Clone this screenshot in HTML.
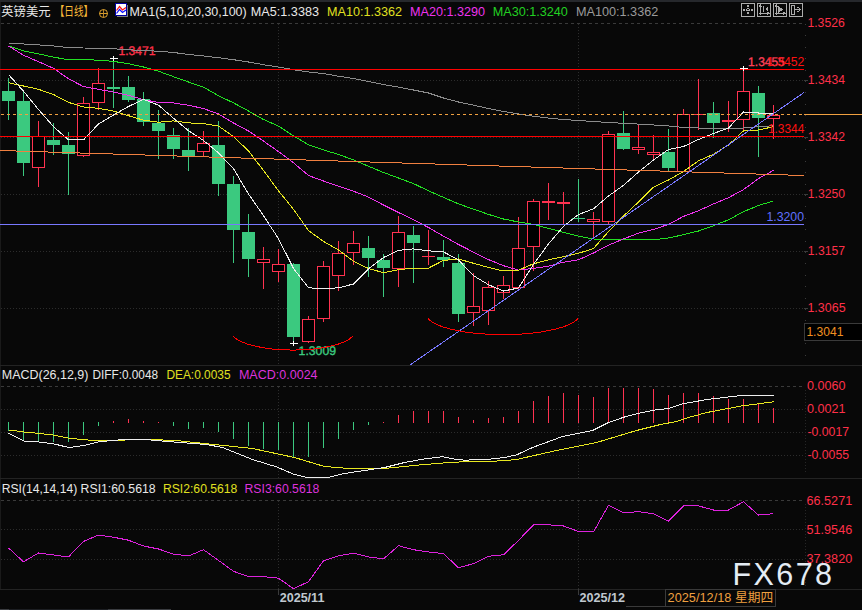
<!DOCTYPE html><html><head><meta charset="utf-8"><title>英镑美元 日线</title><style>
html,body{margin:0;padding:0;background:#080808;width:862px;height:610px;overflow:hidden}
svg{display:block}
text{font-family:"Liberation Sans","Noto Sans CJK SC",sans-serif;font-size:13px}
.ax{fill:#ff3048;font-size:12.5px}
</style></head><body>
<svg width="862" height="610" viewBox="0 0 862 610">
<rect x="0" y="0" width="862" height="610" fill="#080808"/>
<rect x="0" y="0" width="862" height="2" fill="#26282c"/>
<rect x="0" y="2" width="1" height="587" fill="#1a1a1a"/>
<rect x="0" y="365" width="862" height="1" fill="#232323"/>
<rect x="0" y="478" width="862" height="1" fill="#232323"/>
<rect x="0" y="589" width="862" height="1" fill="#232323"/>
<g shape-rendering="crispEdges"><line x1="1" y1="23.5" x2="802" y2="23.5" stroke="#3a3a3a" stroke-dasharray="3 3"/><line x1="1" y1="386.5" x2="802" y2="386.5" stroke="#3a3a3a" stroke-dasharray="3 3"/><line x1="1" y1="500.5" x2="802" y2="500.5" stroke="#3a3a3a" stroke-dasharray="3 3"/><line x1="1" y1="80.5" x2="804" y2="80.5" stroke="#2c2c2c" stroke-dasharray="1 2"/><line x1="1" y1="137.5" x2="804" y2="137.5" stroke="#2c2c2c" stroke-dasharray="1 2"/><line x1="1" y1="194.5" x2="804" y2="194.5" stroke="#2c2c2c" stroke-dasharray="1 2"/><line x1="1" y1="251.5" x2="804" y2="251.5" stroke="#2c2c2c" stroke-dasharray="1 2"/><line x1="1" y1="308.5" x2="804" y2="308.5" stroke="#2c2c2c" stroke-dasharray="1 2"/><line x1="1" y1="409.5" x2="804" y2="409.5" stroke="#2c2c2c" stroke-dasharray="1 2"/><line x1="1" y1="432.5" x2="804" y2="432.5" stroke="#2c2c2c" stroke-dasharray="1 2"/><line x1="1" y1="455.5" x2="804" y2="455.5" stroke="#2c2c2c" stroke-dasharray="1 2"/><line x1="1" y1="529.5" x2="804" y2="529.5" stroke="#2c2c2c" stroke-dasharray="1 2"/><line x1="1" y1="559.5" x2="804" y2="559.5" stroke="#2c2c2c" stroke-dasharray="1 2"/><line x1="278.5" y1="24" x2="278.5" y2="365" stroke="#2c2c2c" stroke-dasharray="1 2"/><line x1="278.5" y1="387" x2="278.5" y2="478" stroke="#2c2c2c" stroke-dasharray="1 2"/><line x1="278.5" y1="501" x2="278.5" y2="589" stroke="#2c2c2c" stroke-dasharray="1 2"/><line x1="278.5" y1="589" x2="278.5" y2="595" stroke="#3a3a3a"/><line x1="578.5" y1="24" x2="578.5" y2="365" stroke="#2c2c2c" stroke-dasharray="1 2"/><line x1="578.5" y1="387" x2="578.5" y2="478" stroke="#2c2c2c" stroke-dasharray="1 2"/><line x1="578.5" y1="501" x2="578.5" y2="589" stroke="#2c2c2c" stroke-dasharray="1 2"/><line x1="578.5" y1="589" x2="578.5" y2="595" stroke="#3a3a3a"/><line x1="805.5" y1="24" x2="805.5" y2="365" stroke="#3a3a3a" stroke-dasharray="1 10.4"/><line x1="804" y1="80.5" x2="808" y2="80.5" stroke="#3a3a3a"/><line x1="804" y1="137.5" x2="808" y2="137.5" stroke="#3a3a3a"/><line x1="804" y1="194.5" x2="808" y2="194.5" stroke="#3a3a3a"/><line x1="804" y1="251.5" x2="808" y2="251.5" stroke="#3a3a3a"/><line x1="804" y1="308.5" x2="808" y2="308.5" stroke="#3a3a3a"/><line x1="805.5" y1="390" x2="805.5" y2="474" stroke="#262626" stroke-dasharray="1 2"/><line x1="805.5" y1="504" x2="805.5" y2="586" stroke="#262626" stroke-dasharray="1 2"/><line x1="8.5" y1="78" x2="8.5" y2="120" stroke="#3bc97f"/><rect x="2" y="91" width="13" height="10" fill="#3bc97f"/><line x1="23.5" y1="91" x2="23.5" y2="176" stroke="#3bc97f"/><rect x="17" y="101" width="13" height="62" fill="#3bc97f"/><line x1="38.5" y1="121" x2="38.5" y2="136" stroke="#ff3250"/><line x1="38.5" y1="168" x2="38.5" y2="187" stroke="#ff3250"/><rect x="32.5" y="136.5" width="12" height="31" fill="#000" stroke="#ff3250"/><line x1="53.5" y1="123" x2="53.5" y2="155" stroke="#3bc97f"/><rect x="47" y="140" width="13" height="5" fill="#3bc97f"/><line x1="68.5" y1="132" x2="68.5" y2="195" stroke="#3bc97f"/><rect x="62" y="145" width="13" height="9" fill="#3bc97f"/><line x1="83.5" y1="97" x2="83.5" y2="103" stroke="#ff3250"/><line x1="83.5" y1="156" x2="83.5" y2="157" stroke="#ff3250"/><rect x="77.5" y="103.5" width="12" height="52" fill="#000" stroke="#ff3250"/><line x1="98.5" y1="68" x2="98.5" y2="83" stroke="#ff3250"/><line x1="98.5" y1="103" x2="98.5" y2="110" stroke="#ff3250"/><rect x="92.5" y="83.5" width="12" height="19" fill="#000" stroke="#ff3250"/><line x1="113.5" y1="57" x2="113.5" y2="108" stroke="#3bc97f"/><rect x="107" y="87" width="13" height="2" fill="#3bc97f"/><line x1="128.5" y1="76" x2="128.5" y2="102" stroke="#3bc97f"/><rect x="122" y="87" width="13" height="13" fill="#3bc97f"/><line x1="143.5" y1="92" x2="143.5" y2="126" stroke="#3bc97f"/><rect x="137" y="99" width="13" height="23" fill="#3bc97f"/><line x1="158.5" y1="110" x2="158.5" y2="159" stroke="#3bc97f"/><rect x="152" y="123" width="13" height="8" fill="#3bc97f"/><line x1="173.5" y1="128" x2="173.5" y2="159" stroke="#3bc97f"/><rect x="167" y="135" width="13" height="14" fill="#3bc97f"/><line x1="188.5" y1="128" x2="188.5" y2="171" stroke="#3bc97f"/><rect x="182" y="150" width="13" height="6" fill="#3bc97f"/><line x1="203.5" y1="131" x2="203.5" y2="143" stroke="#ff3250"/><line x1="203.5" y1="152" x2="203.5" y2="156" stroke="#ff3250"/><rect x="197.5" y="143.5" width="12" height="8" fill="#000" stroke="#ff3250"/><line x1="218.5" y1="121" x2="218.5" y2="196" stroke="#3bc97f"/><rect x="212" y="145" width="13" height="39" fill="#3bc97f"/><line x1="233.5" y1="176" x2="233.5" y2="263" stroke="#3bc97f"/><rect x="227" y="184" width="13" height="46" fill="#3bc97f"/><line x1="248.5" y1="214" x2="248.5" y2="277" stroke="#3bc97f"/><rect x="242" y="232" width="13" height="27" fill="#3bc97f"/><line x1="263.5" y1="247" x2="263.5" y2="259" stroke="#ff3250"/><line x1="263.5" y1="263" x2="263.5" y2="289" stroke="#ff3250"/><rect x="257.5" y="259.5" width="12" height="3" fill="#000" stroke="#ff3250"/><line x1="278.5" y1="249" x2="278.5" y2="264" stroke="#ff3250"/><line x1="278.5" y1="272" x2="278.5" y2="282" stroke="#ff3250"/><rect x="272.5" y="264.5" width="12" height="7" fill="#000" stroke="#ff3250"/><line x1="293.5" y1="263" x2="293.5" y2="343" stroke="#3bc97f"/><rect x="287" y="264" width="13" height="73" fill="#3bc97f"/><line x1="308.5" y1="316" x2="308.5" y2="319" stroke="#ff3250"/><line x1="308.5" y1="342" x2="308.5" y2="343" stroke="#ff3250"/><rect x="302.5" y="319.5" width="12" height="22" fill="#000" stroke="#ff3250"/><line x1="323.5" y1="261" x2="323.5" y2="266" stroke="#ff3250"/><line x1="323.5" y1="319" x2="323.5" y2="322" stroke="#ff3250"/><rect x="317.5" y="266.5" width="12" height="52" fill="#000" stroke="#ff3250"/><line x1="338.5" y1="241" x2="338.5" y2="253" stroke="#ff3250"/><line x1="338.5" y1="276" x2="338.5" y2="291" stroke="#ff3250"/><rect x="332.5" y="253.5" width="12" height="22" fill="#000" stroke="#ff3250"/><line x1="353.5" y1="231" x2="353.5" y2="243" stroke="#ff3250"/><line x1="353.5" y1="253" x2="353.5" y2="265" stroke="#ff3250"/><rect x="347.5" y="243.5" width="12" height="9" fill="#000" stroke="#ff3250"/><line x1="368.5" y1="236" x2="368.5" y2="277" stroke="#3bc97f"/><rect x="362" y="248" width="13" height="10" fill="#3bc97f"/><line x1="383.5" y1="254" x2="383.5" y2="297" stroke="#3bc97f"/><rect x="377" y="260" width="13" height="8" fill="#3bc97f"/><line x1="398.5" y1="216" x2="398.5" y2="232" stroke="#ff3250"/><line x1="398.5" y1="269" x2="398.5" y2="287" stroke="#ff3250"/><rect x="392.5" y="232.5" width="12" height="36" fill="#000" stroke="#ff3250"/><line x1="413.5" y1="226" x2="413.5" y2="283" stroke="#3bc97f"/><rect x="407" y="235" width="13" height="8" fill="#3bc97f"/><line x1="428.5" y1="230" x2="428.5" y2="256" stroke="#ff3250"/><line x1="428.5" y1="257" x2="428.5" y2="265" stroke="#ff3250"/><line x1="422" y1="256.5" x2="435" y2="256.5" stroke="#ff3250"/><line x1="443.5" y1="240" x2="443.5" y2="267" stroke="#3bc97f"/><rect x="437" y="257" width="13" height="3" fill="#3bc97f"/><line x1="458.5" y1="254" x2="458.5" y2="322" stroke="#3bc97f"/><rect x="452" y="263" width="13" height="51" fill="#3bc97f"/><line x1="473.5" y1="273" x2="473.5" y2="306" stroke="#ff3250"/><line x1="473.5" y1="313" x2="473.5" y2="326" stroke="#ff3250"/><rect x="467.5" y="306.5" width="12" height="6" fill="#000" stroke="#ff3250"/><line x1="488.5" y1="281" x2="488.5" y2="287" stroke="#ff3250"/><line x1="488.5" y1="311" x2="488.5" y2="325" stroke="#ff3250"/><rect x="482.5" y="287.5" width="12" height="23" fill="#000" stroke="#ff3250"/><line x1="503.5" y1="276" x2="503.5" y2="285" stroke="#ff3250"/><line x1="503.5" y1="293" x2="503.5" y2="299" stroke="#ff3250"/><rect x="497.5" y="285.5" width="12" height="7" fill="#000" stroke="#ff3250"/><line x1="518.5" y1="217" x2="518.5" y2="248" stroke="#ff3250"/><line x1="518.5" y1="288" x2="518.5" y2="290" stroke="#ff3250"/><rect x="512.5" y="248.5" width="12" height="39" fill="#000" stroke="#ff3250"/><line x1="533.5" y1="199" x2="533.5" y2="201" stroke="#ff3250"/><line x1="533.5" y1="247" x2="533.5" y2="271" stroke="#ff3250"/><rect x="527.5" y="201.5" width="12" height="45" fill="#000" stroke="#ff3250"/><line x1="548.5" y1="183" x2="548.5" y2="201" stroke="#ff3250"/><line x1="548.5" y1="203" x2="548.5" y2="220" stroke="#ff3250"/><rect x="542.5" y="201.5" width="12" height="1" fill="#000" stroke="#ff3250"/><line x1="563.5" y1="192" x2="563.5" y2="202" stroke="#ff3250"/><line x1="563.5" y1="204" x2="563.5" y2="224" stroke="#ff3250"/><rect x="557.5" y="202.5" width="12" height="1" fill="#000" stroke="#ff3250"/><line x1="578.5" y1="179" x2="578.5" y2="222" stroke="#3bc97f"/><rect x="572" y="218" width="13" height="1" fill="#3bc97f"/><line x1="593.5" y1="212" x2="593.5" y2="219" stroke="#ff3250"/><line x1="593.5" y1="222" x2="593.5" y2="239" stroke="#ff3250"/><rect x="587.5" y="219.5" width="12" height="2" fill="#000" stroke="#ff3250"/><line x1="608.5" y1="131" x2="608.5" y2="134" stroke="#ff3250"/><line x1="608.5" y1="222" x2="608.5" y2="225" stroke="#ff3250"/><rect x="602.5" y="134.5" width="12" height="87" fill="#000" stroke="#ff3250"/><line x1="623.5" y1="111" x2="623.5" y2="150" stroke="#3bc97f"/><rect x="617" y="133" width="13" height="16" fill="#3bc97f"/><line x1="638.5" y1="125" x2="638.5" y2="147" stroke="#ff3250"/><line x1="638.5" y1="150" x2="638.5" y2="154" stroke="#ff3250"/><rect x="632.5" y="147.5" width="12" height="2" fill="#000" stroke="#ff3250"/><line x1="653.5" y1="135" x2="653.5" y2="152" stroke="#ff3250"/><line x1="653.5" y1="155" x2="653.5" y2="159" stroke="#ff3250"/><rect x="647.5" y="152.5" width="12" height="2" fill="#000" stroke="#ff3250"/><line x1="668.5" y1="129" x2="668.5" y2="171" stroke="#3bc97f"/><rect x="662" y="152" width="13" height="16" fill="#3bc97f"/><line x1="683.5" y1="109" x2="683.5" y2="114" stroke="#ff3250"/><line x1="683.5" y1="172" x2="683.5" y2="172" stroke="#ff3250"/><rect x="677.5" y="114.5" width="12" height="57" fill="#000" stroke="#ff3250"/><line x1="698.5" y1="79" x2="698.5" y2="114" stroke="#ff3250"/><line x1="698.5" y1="115" x2="698.5" y2="130" stroke="#ff3250"/><line x1="692" y1="114.5" x2="705" y2="114.5" stroke="#ff3250"/><line x1="713.5" y1="102" x2="713.5" y2="138" stroke="#3bc97f"/><rect x="707" y="113" width="13" height="10" fill="#3bc97f"/><line x1="728.5" y1="101" x2="728.5" y2="120" stroke="#ff3250"/><line x1="728.5" y1="122" x2="728.5" y2="132" stroke="#ff3250"/><rect x="722.5" y="120.5" width="12" height="1" fill="#000" stroke="#ff3250"/><line x1="743.5" y1="67" x2="743.5" y2="91" stroke="#ff3250"/><line x1="743.5" y1="120" x2="743.5" y2="130" stroke="#ff3250"/><rect x="737.5" y="91.5" width="12" height="28" fill="#000" stroke="#ff3250"/><line x1="758.5" y1="86" x2="758.5" y2="157" stroke="#3bc97f"/><rect x="752" y="93" width="13" height="25" fill="#3bc97f"/><line x1="773.5" y1="105" x2="773.5" y2="115" stroke="#ff3250"/><line x1="773.5" y1="119" x2="773.5" y2="139" stroke="#ff3250"/><rect x="767.5" y="115.5" width="12" height="3" fill="#000" stroke="#ff3250"/><g shape-rendering="auto" text-rendering="geometricPrecision"><text x="118.5" y="55" fill="#ff3048" textLength="37.1" lengthAdjust="spacingAndGlyphs" style="font-size:12.5px;stroke:#ff3048;stroke-width:0.35px">1.3471</text><text x="298.6" y="354.6" fill="#3bc97f" textLength="37.4" lengthAdjust="spacingAndGlyphs" style="font-size:12.5px;stroke:#3bc97f;stroke-width:0.35px">1.3009</text><text x="748.1" y="65.7" fill="#ff4058" textLength="36.8" lengthAdjust="spacingAndGlyphs" style="font-size:12.5px;stroke:#ff4058;stroke-width:0.35px">1.3455</text></g><polyline points="8.5,43.0 23.5,44.0 38.5,44.9 53.5,46.0 68.5,47.6 83.5,48.0 98.5,48.2 113.5,48.8 128.5,49.8 143.5,50.5 158.5,51.2 173.5,52.5 188.5,54.4 203.5,56.0 218.5,57.7 233.5,59.7 248.5,62.0 263.5,64.7 278.5,67.1 293.5,69.7 308.5,72.0 323.5,73.6 338.5,76.2 353.5,78.5 368.5,81.5 383.5,84.5 398.5,87.1 413.5,90.0 428.5,93.0 443.5,98.0 458.5,102.0 473.5,105.2 488.5,108.5 503.5,111.5 518.5,114.0 533.5,116.2 548.5,118.1 563.5,119.5 578.5,120.5 593.5,121.5 608.5,122.5 623.5,123.3 638.5,124.1 653.5,125.0 668.5,126.0 683.5,127.4 698.5,128.0 713.5,128.7 728.5,128.7 743.5,128.0 758.5,126.7 773.5,125.7" fill="none" stroke="#8c8c8c"/><polyline points="8.5,45.7 23.5,51.0 38.5,53.9 53.5,57.1 68.5,59.8 83.5,59.8 98.5,60.1 113.5,61.4 128.5,63.7 143.5,67.0 158.5,71.2 173.5,76.7 188.5,82.0 203.5,87.2 218.5,95.7 233.5,102.9 248.5,111.0 263.5,119.5 278.5,126.1 293.5,135.9 308.5,144.7 323.5,149.9 338.5,154.5 353.5,159.8 368.5,166.3 383.5,172.5 398.5,178.0 413.5,183.6 428.5,190.8 443.5,197.4 458.5,203.9 473.5,209.2 488.5,214.4 503.5,219.0 518.5,222.0 533.5,224.4 548.5,228.4 563.5,232.3 578.5,236.2 593.5,239.0 608.5,239.7 623.5,239.7 638.5,239.7 653.5,239.7 668.5,238.0 683.5,234.7 698.5,231.0 713.5,225.7 728.5,219.8 743.5,211.7 758.5,205.5 773.5,200.9" fill="none" stroke="#22e022"/><polyline points="8.5,46.0 23.5,55.2 38.5,61.7 53.5,68.3 68.5,78.8 83.5,86.6 98.5,89.3 113.5,92.1 128.5,95.3 143.5,99.7 158.5,102.5 173.5,103.0 188.5,105.3 203.5,108.5 218.5,114.0 233.5,123.0 248.5,131.0 263.5,141.1 278.5,151.6 293.5,162.8 308.5,175.5 323.5,181.0 338.5,186.3 353.5,191.2 368.5,197.1 383.5,205.0 398.5,212.5 413.5,219.7 428.5,227.5 443.5,236.1 458.5,244.5 473.5,252.1 488.5,259.6 503.5,265.7 518.5,270.1 533.5,268.4 548.5,266.1 563.5,262.2 578.5,259.8 593.5,253.0 608.5,245.2 623.5,238.9 638.5,233.2 653.5,229.5 668.5,224.3 683.5,216.4 698.5,210.8 713.5,203.9 728.5,197.7 743.5,189.6 758.5,178.5 773.5,170.4" fill="none" stroke="#ee33ee"/><polyline points="8.5,82.7 23.5,86.0 38.5,89.3 53.5,94.5 68.5,102.4 83.5,107.0 98.5,108.3 113.5,111.1 128.5,115.7 143.5,120.2 158.5,122.2 173.5,120.9 188.5,122.9 203.5,123.5 218.5,126.1 233.5,136.5 248.5,151.0 263.5,170.5 278.5,190.8 293.5,209.3 308.5,230.5 323.5,241.5 338.5,250.0 353.5,261.3 368.5,268.5 383.5,272.7 398.5,269.8 413.5,268.1 428.5,268.1 443.5,260.4 458.5,259.0 473.5,263.3 488.5,267.5 503.5,271.0 518.5,270.1 533.5,263.8 548.5,259.8 563.5,256.6 578.5,253.3 593.5,248.5 608.5,231.5 623.5,216.0 638.5,202.0 653.5,187.1 668.5,180.0 683.5,171.5 698.5,160.8 713.5,154.3 728.5,145.0 743.5,130.9 758.5,130.0 773.5,126.7" fill="none" stroke="#e8e820"/><polyline points="8.5,74.6 23.5,91.2 38.5,109.5 53.5,126.7 68.5,139.9 83.5,139.9 98.5,124.0 113.5,115.0 128.5,106.5 143.5,99.3 158.5,105.2 173.5,118.3 188.5,130.7 203.5,140.5 218.5,152.9 233.5,168.7 248.5,194.0 263.5,215.7 278.5,238.7 293.5,268.5 308.5,287.8 323.5,288.6 338.5,287.8 353.5,284.0 368.5,268.9 383.5,257.5 398.5,250.4 413.5,248.9 428.5,250.8 443.5,251.9 458.5,260.0 473.5,275.7 488.5,284.7 503.5,291.0 518.5,288.0 533.5,264.4 548.5,243.8 563.5,226.4 578.5,214.5 593.5,208.8 608.5,196.0 623.5,185.3 638.5,172.0 653.5,160.0 668.5,149.5 683.5,146.5 698.5,139.5 713.5,133.5 728.5,128.0 743.5,112.0 758.5,113.0 773.5,113.0" fill="none" stroke="#eeeeee"/><line x1="0" y1="69.5" x2="804" y2="69.5" stroke="#ff0000"/><line x1="0" y1="136.5" x2="804" y2="136.5" stroke="#ff0000"/><line x1="0" y1="224.5" x2="804" y2="224.5" stroke="#7878ff"/><line x1="1" y1="114.5" x2="804" y2="114.5" stroke="#f0a040" stroke-dasharray="3 3"/><line x1="804" y1="114.5" x2="862" y2="114.5" stroke="#f0a040"/><line x1="0" y1="150.5" x2="804" y2="175.5" stroke="#f08040"/><line x1="410" y1="365" x2="804" y2="92.5" stroke="#7878ff"/><path d="M233,336 A62,18.8 0 0 0 353,336" fill="none" stroke="#ff0000"/><path d="M428,318.5 A77,20.9 0 0 0 578,318.5" fill="none" stroke="#ff0000"/><line x1="110" y1="58.5" x2="118" y2="58.5" stroke="#ffffff"/><line x1="113.5" y1="56" x2="113.5" y2="61" stroke="#ffffff"/><line x1="290" y1="343.5" x2="298" y2="343.5" stroke="#ffffff"/><line x1="293.5" y1="341" x2="293.5" y2="346" stroke="#ffffff"/><line x1="740" y1="68.5" x2="748" y2="68.5" stroke="#ffffff"/><line x1="743.5" y1="66" x2="743.5" y2="71" stroke="#ffffff"/><line x1="8.5" y1="422" x2="8.5" y2="431" stroke="#3bc97f"/><line x1="23.5" y1="422" x2="23.5" y2="441" stroke="#3bc97f"/><line x1="38.5" y1="422" x2="38.5" y2="441" stroke="#3bc97f"/><line x1="53.5" y1="422" x2="53.5" y2="442" stroke="#3bc97f"/><line x1="68.5" y1="422" x2="68.5" y2="442" stroke="#3bc97f"/><line x1="83.5" y1="422" x2="83.5" y2="435" stroke="#3bc97f"/><line x1="98.5" y1="422" x2="98.5" y2="426" stroke="#3bc97f"/><line x1="113.5" y1="421" x2="113.5" y2="423" stroke="#ff3250"/><line x1="128.5" y1="419" x2="128.5" y2="423" stroke="#ff3250"/><line x1="143.5" y1="421" x2="143.5" y2="423" stroke="#ff3250"/><line x1="158.5" y1="422" x2="158.5" y2="423" stroke="#ff3250"/><line x1="173.5" y1="422" x2="173.5" y2="426" stroke="#3bc97f"/><line x1="188.5" y1="422" x2="188.5" y2="429" stroke="#3bc97f"/><line x1="203.5" y1="422" x2="203.5" y2="428" stroke="#3bc97f"/><line x1="218.5" y1="422" x2="218.5" y2="432" stroke="#3bc97f"/><line x1="233.5" y1="422" x2="233.5" y2="439" stroke="#3bc97f"/><line x1="248.5" y1="422" x2="248.5" y2="446" stroke="#3bc97f"/><line x1="263.5" y1="422" x2="263.5" y2="449" stroke="#3bc97f"/><line x1="278.5" y1="422" x2="278.5" y2="450" stroke="#3bc97f"/><line x1="293.5" y1="422" x2="293.5" y2="457" stroke="#3bc97f"/><line x1="308.5" y1="422" x2="308.5" y2="457" stroke="#3bc97f"/><line x1="323.5" y1="422" x2="323.5" y2="448" stroke="#3bc97f"/><line x1="338.5" y1="422" x2="338.5" y2="439" stroke="#3bc97f"/><line x1="353.5" y1="422" x2="353.5" y2="430" stroke="#3bc97f"/><line x1="368.5" y1="422" x2="368.5" y2="425" stroke="#3bc97f"/><line x1="383.5" y1="422" x2="383.5" y2="423" stroke="#ff3250"/><line x1="398.5" y1="415" x2="398.5" y2="423" stroke="#ff3250"/><line x1="413.5" y1="411" x2="413.5" y2="423" stroke="#ff3250"/><line x1="428.5" y1="411" x2="428.5" y2="423" stroke="#ff3250"/><line x1="443.5" y1="411" x2="443.5" y2="423" stroke="#ff3250"/><line x1="458.5" y1="417" x2="458.5" y2="423" stroke="#ff3250"/><line x1="473.5" y1="420" x2="473.5" y2="423" stroke="#ff3250"/><line x1="488.5" y1="418" x2="488.5" y2="423" stroke="#ff3250"/><line x1="503.5" y1="417" x2="503.5" y2="423" stroke="#ff3250"/><line x1="518.5" y1="411" x2="518.5" y2="423" stroke="#ff3250"/><line x1="533.5" y1="401" x2="533.5" y2="423" stroke="#ff3250"/><line x1="548.5" y1="396" x2="548.5" y2="423" stroke="#ff3250"/><line x1="563.5" y1="393" x2="563.5" y2="423" stroke="#ff3250"/><line x1="578.5" y1="395" x2="578.5" y2="423" stroke="#ff3250"/><line x1="593.5" y1="397" x2="593.5" y2="423" stroke="#ff3250"/><line x1="608.5" y1="388" x2="608.5" y2="423" stroke="#ff3250"/><line x1="623.5" y1="388" x2="623.5" y2="423" stroke="#ff3250"/><line x1="638.5" y1="388" x2="638.5" y2="423" stroke="#ff3250"/><line x1="653.5" y1="389" x2="653.5" y2="423" stroke="#ff3250"/><line x1="668.5" y1="395" x2="668.5" y2="423" stroke="#ff3250"/><line x1="683.5" y1="393" x2="683.5" y2="423" stroke="#ff3250"/><line x1="698.5" y1="393" x2="698.5" y2="423" stroke="#ff3250"/><line x1="713.5" y1="396" x2="713.5" y2="423" stroke="#ff3250"/><line x1="728.5" y1="399" x2="728.5" y2="423" stroke="#ff3250"/><line x1="743.5" y1="399" x2="743.5" y2="423" stroke="#ff3250"/><line x1="758.5" y1="404" x2="758.5" y2="423" stroke="#ff3250"/><line x1="773.5" y1="408" x2="773.5" y2="423" stroke="#ff3250"/><polyline points="8.5,429.9 24.0,432.0 39.0,433.4 54.0,435.1 69.0,438.2 84.0,439.7 99.0,440.8 114.0,440.8 129.0,439.7 144.0,439.7 159.0,439.9 174.0,440.3 252.5,448.5 294.5,457.5 324.5,466.5 344.5,468.1 364.5,468.9 384.5,468.5 404.5,466.5 424.5,464.5 444.5,462.9 464.5,461.7 484.5,461.5 504.5,460.7 516.5,459.5 556.5,450.5 596.5,442.5 636.5,430.5 660.5,424.5 676.5,421.5 688.5,417.5 707.4,412.4 742.5,405.8 774.0,401.8" fill="none" stroke="#e8e820"/><polyline points="8.5,433.4 24.0,441.0 39.0,442.0 54.0,443.9 69.0,447.6 84.0,445.5 99.0,441.8 114.0,440.3 129.0,439.3 144.0,439.3 159.0,440.8 174.0,442.0 206.5,444.5 222.5,447.5 252.5,459.5 276.5,466.9 294.5,474.5 308.5,477.9 326.5,477.9 344.5,473.5 364.5,470.5 384.5,467.5 404.5,462.5 424.5,458.9 442.5,456.7 456.5,459.5 464.5,460.1 484.5,459.7 504.5,457.5 516.5,454.9 532.5,447.5 562.5,436.5 592.5,430.5 608.5,422.5 624.5,417.0 640.5,412.8 656.5,409.8 668.5,408.5 683.9,403.5 707.4,399.5 742.5,395.3 774.0,395.3" fill="none" stroke="#eeeeee"/><polyline points="8.5,547.9 23.5,561.8 38.5,553.0 53.5,555.0 68.5,556.9 83.5,541.4 98.5,535.1 113.5,537.2 128.5,540.2 143.5,546.0 158.5,549.0 173.5,554.1 188.5,556.0 203.5,549.7 218.5,560.4 233.5,571.3 248.5,576.6 263.5,576.6 278.5,578.2 293.5,588.7 308.5,581.7 323.5,560.8 338.5,555.7 353.5,553.2 368.5,556.9 383.5,558.9 398.5,545.7 413.5,549.7 428.5,552.0 443.5,553.6 458.5,567.8 473.5,563.6 488.5,556.2 503.5,554.8 518.5,540.4 533.5,524.8 548.5,524.8 563.5,526.0 578.5,531.5 593.5,532.0 608.5,505.2 623.5,512.7 638.5,511.7 653.5,513.7 668.5,521.2 683.5,505.9 698.5,505.9 713.5,510.0 728.5,510.0 743.5,501.8 758.5,515.1 773.5,513.7" fill="none" stroke="#dd22dd"/></g>
<rect x="804.5" y="323.5" width="60" height="17" fill="#000" stroke="#3a3a3a"/>
<rect x="665.5" y="589.5" width="110" height="17" fill="#080808" stroke="#3a3a3a"/>
<rect x="626" y="606" width="40" height="1" fill="#3a3a3a"/>
<rect x="0" y="609" width="9" height="1" fill="#3a3c40"/><rect x="9" y="609" width="99" height="1" fill="#1c1e22"/><rect x="108" y="609" width="63" height="1" fill="#3a3c40"/>
<text x="1.3" y="16" fill="#e8e8e8" textLength="49.2" lengthAdjust="spacingAndGlyphs" style="font-size:12.5px;">英镑美元</text><text x="54.7" y="16" fill="#f8b838" textLength="38.5" lengthAdjust="spacingAndGlyphs" style="font-size:12.5px;">【日线】</text><text x="129.6" y="16" fill="#e8e8e8" textLength="117.1" lengthAdjust="spacingAndGlyphs" style="font-size:13px;">MA1(5,10,20,30,100)</text><text x="250.8" y="16" fill="#e8e8e8" textLength="68.2" lengthAdjust="spacingAndGlyphs" style="font-size:13px;">MA5:1.3383</text><text x="327.1" y="16" fill="#e0e020" textLength="75.0" lengthAdjust="spacingAndGlyphs" style="font-size:13px;">MA10:1.3362</text><text x="410.0" y="16" fill="#ee33ee" textLength="75.0" lengthAdjust="spacingAndGlyphs" style="font-size:13px;">MA20:1.3290</text><text x="492.7" y="16" fill="#22d022" textLength="75.2" lengthAdjust="spacingAndGlyphs" style="font-size:13px;">MA30:1.3240</text><text x="575.9" y="16" fill="#9a9a9a" textLength="82.4" lengthAdjust="spacingAndGlyphs" style="font-size:13px;">MA100:1.3362</text><text x="807.4" y="27" fill="#ff3048" textLength="37.4" lengthAdjust="spacingAndGlyphs" style="font-size:12.5px;">1.3526</text><text x="807.8" y="84" fill="#ff3048" textLength="37.1" lengthAdjust="spacingAndGlyphs" style="font-size:12.5px;">1.3434</text><text x="807.8" y="140.5" fill="#ff3048" textLength="37.1" lengthAdjust="spacingAndGlyphs" style="font-size:12.5px;">1.3342</text><text x="807.8" y="198" fill="#ff3048" textLength="37.2" lengthAdjust="spacingAndGlyphs" style="font-size:12.5px;">1.3250</text><text x="807.8" y="255" fill="#ff3048" textLength="37.2" lengthAdjust="spacingAndGlyphs" style="font-size:12.5px;">1.3157</text><text x="807.4" y="312.2" fill="#ff3048" textLength="38.2" lengthAdjust="spacingAndGlyphs" style="font-size:12.5px;">1.3065</text><text x="806.4" y="336.2" fill="#f09020" textLength="37.0" lengthAdjust="spacingAndGlyphs" style="font-size:12.5px;">1.3041</text><text x="766.9" y="65.7" fill="#ff1010" textLength="37.5" lengthAdjust="spacingAndGlyphs" style="font-size:12.5px;">1.3452</text><text x="767.9" y="133" fill="#ff1010" textLength="36.5" lengthAdjust="spacingAndGlyphs" style="font-size:12.5px;">1.3344</text><text x="766.4" y="221" fill="#6070ff" textLength="37.6" lengthAdjust="spacingAndGlyphs" style="font-size:12.5px;">1.3200</text><text x="1.8" y="379" fill="#e8e8e8" textLength="86.6" lengthAdjust="spacingAndGlyphs" style="font-size:12.5px;">MACD(26,12,9)</text><text x="92.4" y="379" fill="#e8e8e8" textLength="65.7" lengthAdjust="spacingAndGlyphs" style="font-size:12.5px;">DIFF:0.0048</text><text x="166.4" y="379" fill="#e0e020" textLength="64.2" lengthAdjust="spacingAndGlyphs" style="font-size:12.5px;">DEA:0.0035</text><text x="238.9" y="379" fill="#dd33dd" textLength="78.7" lengthAdjust="spacingAndGlyphs" style="font-size:12.5px;">MACD:0.0024</text><text x="806.9" y="389.6" fill="#ff3048" textLength="38.5" lengthAdjust="spacingAndGlyphs" style="font-size:12.5px;">0.0060</text><text x="806.9" y="413" fill="#ff3048" textLength="38.5" lengthAdjust="spacingAndGlyphs" style="font-size:12.5px;">0.0021</text><text x="807.4" y="435.8" fill="#ff3048" textLength="41.7" lengthAdjust="spacingAndGlyphs" style="font-size:12.5px;">-0.0017</text><text x="807.4" y="458.7" fill="#ff3048" textLength="41.7" lengthAdjust="spacingAndGlyphs" style="font-size:12.5px;">-0.0055</text><text x="1.7" y="493.2" fill="#e8e8e8" textLength="75.6" lengthAdjust="spacingAndGlyphs" style="font-size:12.5px;">RSI(14,14,14)</text><text x="80.6" y="493.2" fill="#e8e8e8" textLength="75.0" lengthAdjust="spacingAndGlyphs" style="font-size:12.5px;">RSI1:60.5618</text><text x="162.9" y="493.2" fill="#e0e020" textLength="74.5" lengthAdjust="spacingAndGlyphs" style="font-size:12.5px;">RSI2:60.5618</text><text x="244.5" y="493.2" fill="#dd33dd" textLength="74.8" lengthAdjust="spacingAndGlyphs" style="font-size:12.5px;">RSI3:60.5618</text><text x="806.5" y="504.5" fill="#ff3048" textLength="45.7" lengthAdjust="spacingAndGlyphs" style="font-size:12.5px;">66.5271</text><text x="806.5" y="533.5" fill="#ff3048" textLength="45.7" lengthAdjust="spacingAndGlyphs" style="font-size:12.5px;">51.9546</text><text x="806.5" y="563" fill="#ff3048" textLength="45.7" lengthAdjust="spacingAndGlyphs" style="font-size:12.5px;">37.3820</text><text x="279.7" y="602" fill="#c0c8d0" textLength="44.7" lengthAdjust="spacingAndGlyphs" style="font-size:12.5px;font-weight:bold;">2025/11</text><text x="579.5" y="602" fill="#c0c8d0" textLength="45.6" lengthAdjust="spacingAndGlyphs" style="font-size:12.5px;font-weight:bold;">2025/12</text><text x="667.6" y="602" fill="#f0a040" textLength="105.6" lengthAdjust="spacingAndGlyphs" style="font-size:12.5px;">2025/12/18 星期四</text><text x="732.5" y="584.5" fill="#e4ecf4" style="font-size:30.5px;letter-spacing:2.4px">FX678</text>
<g shape-rendering="crispEdges"><rect x="741.5" y="3.5" width="13" height="13" fill="none" stroke="#acacac"/><rect x="757.5" y="3.5" width="13" height="13" fill="none" stroke="#acacac"/><rect x="773.5" y="3.5" width="13" height="13" fill="none" stroke="#acacac"/><rect x="789.5" y="3.5" width="13" height="13" fill="none" stroke="#acacac"/><rect x="747" y="5" width="2" height="2" fill="#acacac"/><rect x="747" y="8" width="2" height="1" fill="#acacac"/><rect x="747" y="10" width="2" height="1" fill="#acacac"/><rect x="747" y="12" width="2" height="2" fill="#acacac"/><rect x="743" y="9" width="2" height="2" fill="#acacac"/><rect x="746" y="9" width="1" height="2" fill="#acacac"/><rect x="749" y="9" width="1" height="2" fill="#acacac"/><rect x="751" y="9" width="2" height="2" fill="#acacac"/><line x1="760.5" y1="5" x2="760.5" y2="15" stroke="#acacac"/><line x1="759" y1="13.5" x2="769" y2="13.5" stroke="#acacac"/><path d="M759,7 L760.5,5 L762,7" fill="none" stroke="#acacac"/><path d="M767,12 L769,13.5 L767,15" fill="none" stroke="#acacac"/><line x1="776.5" y1="5" x2="776.5" y2="15" stroke="#acacac"/><line x1="775" y1="13.5" x2="785" y2="13.5" stroke="#acacac"/><path d="M775,7 L776.5,5 L778,7" fill="none" stroke="#acacac"/><path d="M783,12 L785,13.5 L783,15" fill="none" stroke="#acacac"/><rect x="763" y="6" width="1" height="6" fill="#acacac"/><path d="M768,6 L765,9 L768,12 Z" fill="#acacac"/><path d="M778,6 L783,9.5 L778,13 Z" fill="#acacac"/><rect x="778" y="6" width="1" height="7" fill="#acacac"/><rect x="791.5" y="5.5" width="3" height="9" fill="none" stroke="#acacac"/><line x1="794" y1="9.5" x2="800" y2="9.5" stroke="#acacac"/><path d="M797.5,7 L800.5,9.5 L797.5,12" fill="none" stroke="#acacac"/></g>
<circle cx="103.5" cy="13.5" r="4" fill="none" stroke="#f0b030" stroke-width="0.9"/><line x1="99.5" y1="13.5" x2="107.5" y2="13.5" stroke="#f0b030" stroke-width="0.9"/><line x1="103.5" y1="9.5" x2="103.5" y2="17.5" stroke="#c89030" stroke-width="0.9"/>
<g shape-rendering="crispEdges"><rect x="117" y="5" width="11" height="12" fill="#7a7a7a"/><rect x="115.5" y="3.5" width="11" height="12" fill="#ffffff" stroke="#0000a0"/></g>
<polyline points="116.5,10.5 119.5,6.5 122.5,10 126,7.5" fill="none" stroke="#ff1010" stroke-width="1.2"/>
<polyline points="116.5,13.5 119.5,9.5 122.5,12.5 126,10" fill="none" stroke="#1010ff" stroke-width="1.2"/>
</svg></body></html>
